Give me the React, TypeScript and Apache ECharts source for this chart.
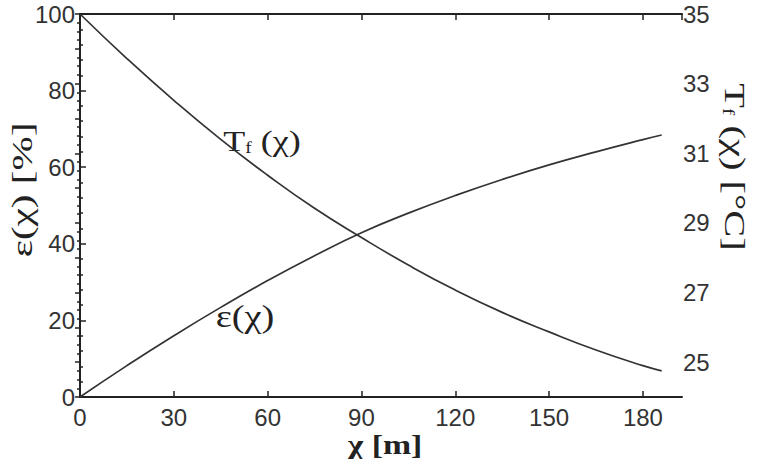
import React, { useEffect, useRef } from "react";
import * as echarts from "echarts";

const xPositions = [0, 15, 30, 45, 60, 75, 90, 105, 120, 135, 150, 165, 180, 186];
const epsilonValues = [0, 8.2, 16.0, 23.4, 30.4, 36.9, 42.9, 48.0, 52.6, 56.8, 60.6, 64.0, 67.2, 68.4];
const tfValues = [35, 33.72, 32.52, 31.4, 30.37, 29.42, 28.58, 27.79, 27.07, 26.43, 25.87, 25.35, 24.9, 24.75];
const xTickLabels = [0, 30, 60, 90, 120, 150, 180];
const leftTickLabels = [0, 20, 40, 60, 80, 100];
const rightTickLabels = [25, 27, 29, 31, 33, 35];

const AXIS_COLOR = "#222";
const LABEL_FONT = "Liberation Sans";
const SERIF = "Liberation Serif";

export default function App() {
  const ref = useRef<HTMLDivElement>(null);
  useEffect(() => {
    if (!ref.current) return;
    const chart = echarts.init(ref.current, undefined, { renderer: "svg" });
    const labelStyle = {
      color: "#333",
      fontFamily: LABEL_FONT,
      fontSize: 24,
    };
    const axisLine = { show: true, lineStyle: { color: AXIS_COLOR, width: 2 } };
    const tickStyle = { color: AXIS_COLOR, width: 1.5 };
    chart.setOption({
      animation: false,
      backgroundColor: "#fff",
      grid: { left: 80, top: 14, right: 79, bottom: 62 },
      xAxis: [
        {
          type: "value",
          position: "bottom",
          min: 0,
          max: 192.5,
          interval: 30,
          axisLine,
          axisTick: { show: true, inside: true, length: 6, lineStyle: tickStyle },
          axisLabel: {
            ...labelStyle,
            margin: 8,
            showMaxLabel: false,
            formatter: (v: number) => (xTickLabels.includes(v) ? String(v) : ""),
          },
          splitLine: { show: false },
        },
        {
          type: "value",
          position: "top",
          min: 0,
          max: 192.5,
          interval: 30,
          axisLine,
          axisTick: { show: true, inside: true, length: 6, lineStyle: tickStyle },
          axisLabel: { show: false },
          splitLine: { show: false },
        },
      ],
      yAxis: [
        {
          type: "value",
          position: "left",
          min: 0,
          max: 100,
          interval: 20,
          axisLine,
          axisTick: { show: true, inside: true, length: 6, lineStyle: tickStyle },
          minorTick: { show: true, splitNumber: 5, length: 3, lineStyle: tickStyle },
          axisLabel: {
            ...labelStyle,
            margin: 5,
            formatter: (v: number) => (leftTickLabels.includes(v) ? String(v) : ""),
          },
          splitLine: { show: false },
        },
        {
          type: "value",
          position: "right",
          min: 24,
          max: 35,
          interval: 1,
          axisLine,
          axisTick: { show: true, inside: true, length: 5, lineStyle: tickStyle },
          minorTick: { show: true, splitNumber: 4, length: 3, lineStyle: tickStyle },
          axisLabel: {
            ...labelStyle,
            margin: 1,
            formatter: (v: number) => (rightTickLabels.includes(v) ? String(v) : ""),
          },
          splitLine: { show: false },
        },
      ],
      series: [
        {
          type: "line",
          name: "epsilon",
          xAxisIndex: 0,
          yAxisIndex: 0,
          smooth: true,
          showSymbol: false,
          lineStyle: { color: "#333", width: 1.7 },
          data: xPositions.map((x, i) => [x, epsilonValues[i]]),
        },
        {
          type: "line",
          name: "Tf",
          xAxisIndex: 0,
          yAxisIndex: 1,
          smooth: true,
          showSymbol: false,
          lineStyle: { color: "#333", width: 1.7 },
          data: xPositions.map((x, i) => [x, tfValues[i]]),
        },
      ],
      graphic: [
        {
          type: "text",
          x: 385,
          y: 445,
          scaleX: 1.25,
          style: {
            text: "χ [m]",
            fontFamily: SERIF,
            fontWeight: "bold",
            fontSize: 27,
            fill: "#222",
            align: "center",
            verticalAlign: "middle",
          },
        },
        {
          type: "text",
          x: 22,
          y: 190,
          rotation: Math.PI / 2,
          scaleX: 1.37,
          style: {
            text: "ε(χ) [%]",
            fontFamily: SERIF,
            fontSize: 30,
            fill: "#222",
            align: "center",
            verticalAlign: "middle",
          },
        },
        {
          type: "text",
          x: 735,
          y: 167,
          rotation: -Math.PI / 2,
          scaleX: 1.35,
          style: {
            text: "{a|T}{s|f}{a| (χ) [°C]}",
            fontFamily: SERIF,
            fill: "#222",
            align: "center",
            verticalAlign: "middle",
            rich: {
              a: { fontFamily: SERIF, fontSize: 30, fill: "#222" },
              s: { fontFamily: SERIF, fontSize: 16, fill: "#222", padding: [14, 0, 0, 0] },
            },
          },
        },
        {
          type: "text",
          x: 262,
          y: 141,
          scaleX: 1.2,
          style: {
            text: "{a|T}{s|f}{a| (χ)}",
            fontFamily: SERIF,
            fill: "#222",
            align: "center",
            verticalAlign: "middle",
            rich: {
              a: { fontFamily: SERIF, fontSize: 30, fill: "#222" },
              s: { fontFamily: SERIF, fontSize: 16, fill: "#222", padding: [14, 0, 0, 0] },
            },
          },
        },
        {
          type: "text",
          x: 245,
          y: 317,
          scaleX: 1.2,
          style: {
            text: "ε(χ)",
            fontFamily: SERIF,
            fontSize: 32,
            fill: "#222",
            align: "center",
            verticalAlign: "middle",
          },
        },
      ],
    });
    return () => chart.dispose();
  }, []);
  return <div ref={ref} style={{ width: 761, height: 459, position: "absolute", left: 0, top: 0 }} />;
}
